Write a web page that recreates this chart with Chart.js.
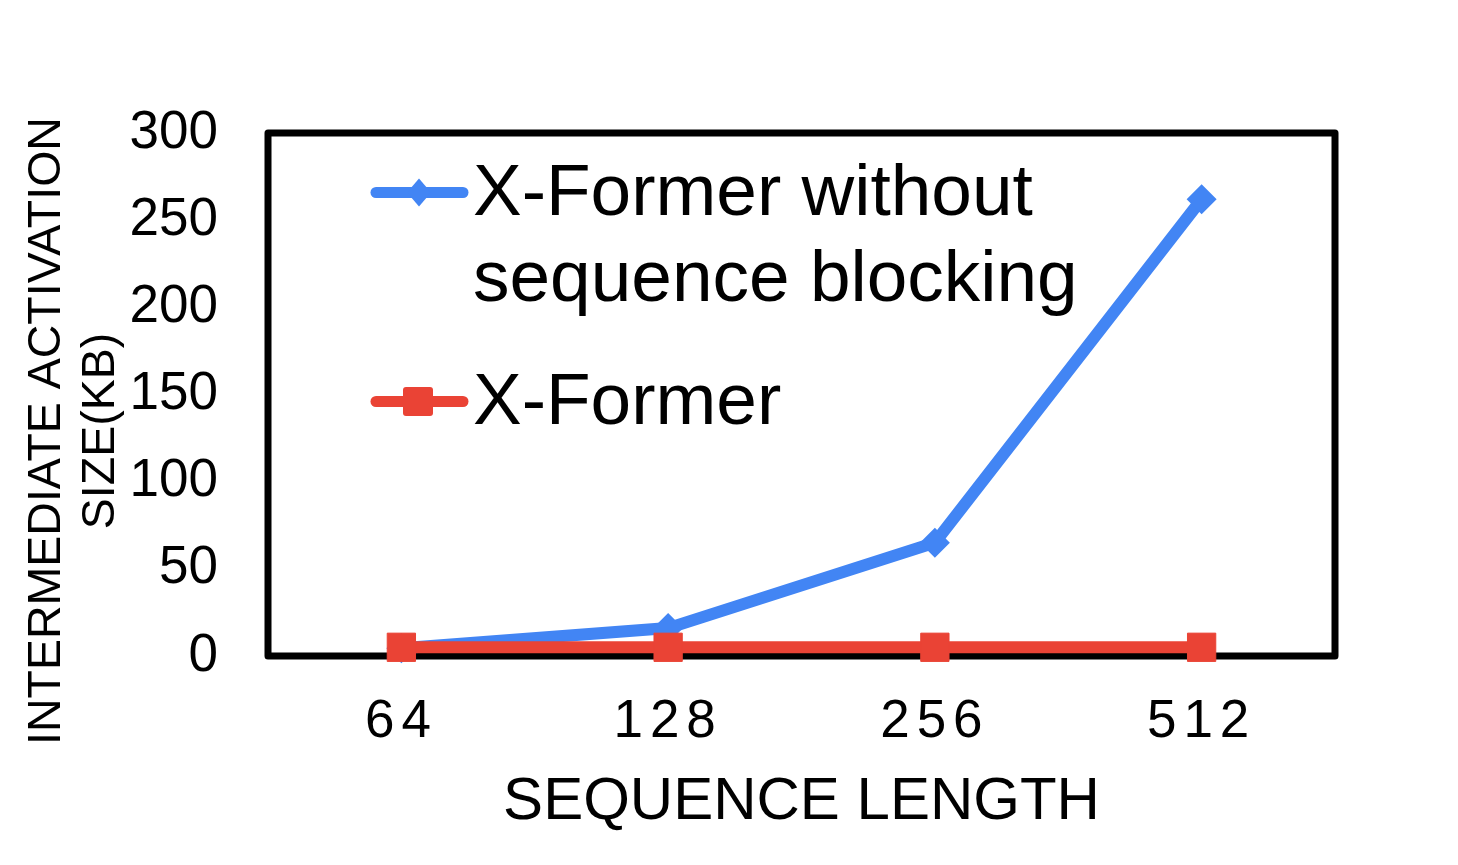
<!DOCTYPE html>
<html>
<head>
<meta charset="utf-8">
<title>Intermediate activation size</title>
<script src="https://cdn.jsdelivr.net/npm/chart.js@4.4.1/dist/chart.umd.min.js"></script>
<style>
    html, body { margin: 0; padding: 0; background: #ffffff; }
    #wrap { width: 1458px; height: 865px; }
</style>
</head>
<body>
<div id="wrap"><canvas id="chart" width="1458" height="865"></canvas></div>
<script>
// Data
const categories = ['64', '128', '256', '512'];
const withoutBlocking = [4.5, 16, 65, 262];
const xFormer = [5, 5, 5, 5];
const yTickValues = [0, 50, 100, 150, 200, 250, 300];
const seriesNames = [['X-Former without', 'sequence blocking'], ['X-Former']];
const yTitleLines = ['INTERMEDIATE ACTIVATION', 'SIZE(KB)'];
const xTitleText = 'SEQUENCE LENGTH';

const BLUE = '#4285F4';
const RED = '#EA4335';
const FONT = 'Arial, "Liberation Sans", Helvetica, sans-serif';

// Black box round the plot area (drawn under the lines)
const framePlugin = {
    id: 'frame',
    beforeDatasetsDraw(chart) {
        const {ctx, chartArea: a} = chart;
        ctx.save();
        ctx.strokeStyle = '#000';
        ctx.lineWidth = 7;
        ctx.lineJoin = 'round';
        ctx.strokeRect(a.left, a.top, a.right - a.left, a.bottom - a.top);
        ctx.restore();
    }
};

// Two-line rotated y title, sitting a bit below the plot centre like the original
const yTitlePlugin = {
    id: 'yTitle',
    afterDraw(chart) {
        const ctx = chart.ctx;
        ctx.save();
        ctx.fillStyle = '#000';
        ctx.font = '46.5px ' + FONT;
        ctx.textAlign = 'center';
        ctx.textBaseline = 'alphabetic';
        const baselines = [60, 114];
        yTitleLines.forEach((line, i) => {
            ctx.save();
            ctx.translate(baselines[i], 431);
            ctx.rotate(-Math.PI / 2);
            ctx.fillText(line, 0, 0);
            ctx.restore();
        });
        ctx.restore();
    }
};

// Legend inside the plot, top left, with multi-line label
const legendPlugin = {
    id: 'insideLegend',
    afterDraw(chart) {
        const ctx = chart.ctx;
        const items = [
            {color: BLUE, shape: 'diamond', y: 192.5, baseline: 215},
            {color: RED, shape: 'square', y: 401.5, baseline: 424}
        ];
        ctx.save();
        items.forEach((it, i) => {
            ctx.strokeStyle = it.color;
            ctx.fillStyle = it.color;
            ctx.lineWidth = 11;
            ctx.lineCap = 'round';
            ctx.beginPath();
            ctx.moveTo(376, it.y);
            ctx.lineTo(463, it.y);
            ctx.stroke();

            ctx.beginPath();
            if (it.shape === 'diamond') {
                ctx.moveTo(419, it.y - 14);
                ctx.lineTo(431, it.y);
                ctx.lineTo(419, it.y + 14);
                ctx.lineTo(407, it.y);
                ctx.closePath();
            } else {
                ctx.roundRect(403, it.y - 14.5, 30, 29, 3);
            }
            ctx.fill();

            ctx.fillStyle = '#000';
            ctx.font = '73px ' + FONT;
            ctx.textAlign = 'left';
            ctx.textBaseline = 'alphabetic';
            seriesNames[i].forEach((line, j) => {
                ctx.fillText(line, 473, it.baseline + j * 86);
            });
        });
        ctx.restore();
    }
};

const ctx = document.getElementById('chart');

new Chart(ctx, {
    type: 'line',
    data: {
        labels: categories,
        datasets: [
            {
                label: seriesNames[0].join(' '),
                data: withoutBlocking,
                borderColor: BLUE,
                backgroundColor: BLUE,
                borderWidth: 12,
                pointStyle: 'rectRot',
                pointRadius: 15,
                pointBorderWidth: 0,
                pointHoverRadius: 15,
                tension: 0,
                clip: false,
                order: 1
            },
            {
                label: seriesNames[1].join(' '),
                data: xFormer,
                borderColor: RED,
                backgroundColor: RED,
                borderWidth: 12,
                pointStyle: 'rect',
                pointRadius: 20,
                pointBorderWidth: 1,
                pointHoverRadius: 20,
                tension: 0,
                clip: false,
                order: 0
            }
        ]
    },
    options: {
        responsive: false,
        animation: false,
        devicePixelRatio: 1,
        layout: {
            padding: {top: 133, right: 123, bottom: 0, left: 0}
        },
        plugins: {
            legend: {display: false},
            tooltip: {enabled: false},
            title: {display: false}
        },
        scales: {
            x: {
                type: 'category',
                offset: true,
                grid: {display: false, drawTicks: false},
                border: {display: false},
                ticks: {
                    color: '#000',
                    padding: 35,
                    font: {family: FONT, size: 53}
                },
                title: {
                    display: true,
                    text: xTitleText,
                    color: '#000',
                    padding: {top: 0, bottom: 27},
                    font: {family: FONT, size: 60}
                },
                afterFit(scale) {
                    scale.height = 209;
                },
                afterUpdate(scale) {
                    // the original spreads the digits of the x labels a little
                    if (scale._spaced) return;
                    scale._spaced = true;
                    const drawLabels = scale.drawLabels;
                    scale.drawLabels = function(area) {
                        this.ctx.save();
                        this.ctx.letterSpacing = '7px';
                        drawLabels.call(this, area);
                        this.ctx.restore();
                    };
                }
            },
            y: {
                min: 0,
                max: 300,
                grid: {display: false, drawTicks: false},
                border: {display: false},
                afterBuildTicks(scale) {
                    scale.ticks = yTickValues.map(v => ({value: v}));
                },
                ticks: {
                    color: '#000',
                    padding: 50,
                    font: {family: FONT, size: 53}
                },
                afterFit(scale) {
                    scale.width = 268;
                }
            }
        }
    },
    plugins: [framePlugin, yTitlePlugin, legendPlugin]
});
</script>
</body>
</html>
